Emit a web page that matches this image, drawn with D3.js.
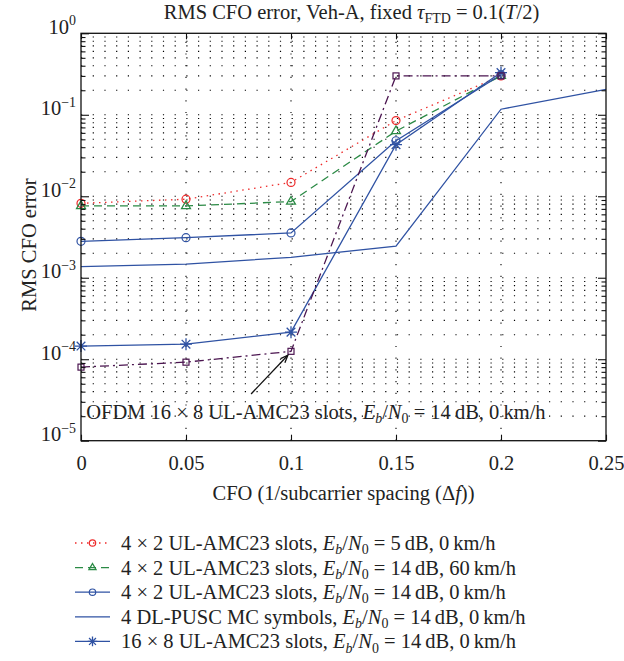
<!DOCTYPE html>
<html><head><meta charset="utf-8">
<script src="https://cdn.jsdelivr.net/npm/d3@7"></script>
<style>
body{margin:0;background:#fff}
svg{display:block}
text{font-family:"Liberation Serif","Times New Roman",serif;fill:#222}
</style>
</head><body><svg id="c" width="624" height="661"></svg>
<script>
// ---------- data ----------
const cfo = [0, 0.05, 0.1, 0.15, 0.2];
const cfoDL = [0, 0.05, 0.1, 0.15, 0.2, 0.25];
const ul4x2_5dB_0kmh = [8.2e-3, 9.2e-3, 1.48e-2, 8.5e-2, 0.30];
const ul4x2_14dB_60kmh = [7.6e-3, 7.6e-3, 8.6e-3, 6.3e-2, 0.30];
const ul4x2_14dB_0kmh = [2.8e-3, 3.1e-3, 3.55e-3, 4.8e-2, 0.31];
const dlPusc_14dB_0kmh = [1.37e-3, 1.47e-3, 1.78e-3, 2.45e-3, 0.117, 0.205];
const ul16x8_14dB_0kmh = [1.45e-4, 1.53e-4, 2.15e-4, 4.3e-2, 0.33];
const ofdm16x8_14dB_0kmh = [8.0e-5, 9.2e-5, 1.25e-4, 0.30, 0.30];

const xTicks = [0, 0.05, 0.1, 0.15, 0.2, 0.25];
const xTickLabels = ["0", "0.05", "0.1", "0.15", "0.2", "0.25"];
const yMajor = [1e-5, 1e-4, 1e-3, 1e-2, 1e-1, 1];
const yExpLabels = ["\u22125", "\u22124", "\u22123", "\u22122", "\u22121", "0"];

const legendLabels = [
  [["4 \u00d7 2 UL-AMC23 slots, ","n"],["E","i"],["b","isub"],["/","n"],["N","i"],["0","sub"],[" = 5\u2009dB, 0\u2009km/h","n"]],
  [["4 \u00d7 2 UL-AMC23 slots, ","n"],["E","i"],["b","isub"],["/","n"],["N","i"],["0","sub"],[" = 14\u2009dB, 60\u2009km/h","n"]],
  [["4 \u00d7 2 UL-AMC23 slots, ","n"],["E","i"],["b","isub"],["/","n"],["N","i"],["0","sub"],[" = 14\u2009dB, 0\u2009km/h","n"]],
  [["4 DL-PUSC MC symbols, ","n"],["E","i"],["b","isub"],["/","n"],["N","i"],["0","sub"],[" = 14\u2009dB, 0\u2009km/h","n"]],
  [["16 \u00d7 8 UL-AMC23 slots, ","n"],["E","i"],["b","isub"],["/","n"],["N","i"],["0","sub"],[" = 14\u2009dB, 0\u2009km/h","n"]]
];
const annotLabel = [["OFDM 16 \u00d7 8 UL-AMC23 slots, ","n"],["E","i"],["b","isub"],["/","n"],["N","i"],["0","sub"],[" = 14\u2009dB, 0\u2009km/h","n"]];
const titleLabel = [["RMS CFO error, Veh-A, fixed ","n"],["\u03c4","i"],["FTD","sub"],[" = 0.1(","n"],["T","i"],["/2)","n"]];
const xLabel = [["CFO (1/subcarrier spacing (\u0394","n"],["f","i"],["))","n"]];
const yLabel = "RMS CFO error";
// annotation anchor points in data units
const annotText = {x: 0.0025, y: 1.85e-5};
const arrowFrom = {x: 0.081, y: 3.75e-5};
const arrowTo = {x: 0.0985, y: 1.12e-4};

// ---------- series table ----------
const series = [
  {x: cfo, v: ul4x2_5dB_0kmh, color: "#ee2a2a", dash: "1.5,4.5", marker: "circle", leg: legendLabels[0]},
  {x: cfo, v: ul4x2_14dB_60kmh, color: "#2b8a45", dash: "8,5", marker: "triangle", leg: legendLabels[1]},
  {x: cfo, v: ul4x2_14dB_0kmh, color: "#2f52a3", dash: null, marker: "circle", leg: legendLabels[2]},
  {x: cfoDL, v: dlPusc_14dB_0kmh, color: "#2f52a3", dash: null, marker: null, leg: legendLabels[3]},
  {x: cfo, v: ul16x8_14dB_0kmh, color: "#2f52a3", dash: null, marker: "star", leg: legendLabels[4]},
  {x: cfo, v: ofdm16x8_14dB_0kmh, color: "#4b1550", dash: "9,4,2,4", marker: "square", leg: null}
];

// ---------- layout ----------
const svg = d3.select("#c");
const L = 81, R = 606, T = 33.3, B = 440.7;
const x = d3.scaleLinear().domain([0, 0.25]).range([L, R]);
const y = d3.scaleLog().domain([1e-5, 1]).range([B, T]);
const FS = 20.5;

function rich(t, segs, fs) {
  let shift = 0;
  segs.forEach(([s, st]) => {
    const target = st.includes("sub") ? 0.2 * fs : (st === "sup" ? -0.42 * fs : 0);
    const sp = t.append("tspan").text(s).attr("dy", target - shift);
    shift = target;
    if (st[0] === "i") sp.attr("font-style", "italic");
    if (st.includes("sub") || st === "sup") sp.attr("font-size", 0.68 * fs);
  });
  return t;
}

// minor y values
const yAll = [];
for (let e = -5; e < 0; e++) for (let k = 1; k <= 9; k++) yAll.push(k * Math.pow(10, e));
yAll.push(1);
const yMinor = yAll.filter(v => !yMajor.some(m => Math.abs(m - v) < v * 1e-9));

// ---------- grid ----------
const grid = svg.append("g").attr("stroke", "#000").attr("stroke-width", 1.1)
  .attr("stroke-dasharray", "1.2,10.5").attr("fill", "none");
grid.selectAll("line.h").data(yAll.filter(v => v > 1e-5 && v < 1)).join("line")
  .attr("x1", L).attr("x2", R).attr("y1", d => y(d)).attr("y2", d => y(d));
grid.selectAll("line.v").data(xTicks.slice(1, -1)).join("line")
  .attr("x1", d => x(d)).attr("x2", d => x(d)).attr("y1", B).attr("y2", T);

// ---------- markers ----------
function drawMarker(g, type, cx, cy, color, scale) {
  const s = scale || 1;
  if (type === "circle") {
    g.append("circle").attr("cx", cx).attr("cy", cy).attr("r", 4 * s)
      .attr("fill", "none").attr("stroke", color).attr("stroke-width", 1.2);
  } else if (type === "triangle") {
    g.append("path").attr("transform", `translate(${cx},${cy})`)
      .attr("d", d3.symbol().type(d3.symbolTriangle).size(34 * s * s)())
      .attr("fill", "none").attr("stroke", color).attr("stroke-width", 1.3);
  } else if (type === "square") {
    const h = 3 * s;
    g.append("rect").attr("x", cx - h).attr("y", cy - h).attr("width", 2 * h).attr("height", 2 * h)
      .attr("fill", "none").attr("stroke", color).attr("stroke-width", 1.2);
  } else if (type === "star") {
    const r = 6 * s, q = r * 0.72;
    g.append("path")
      .attr("d", `M${cx - r},${cy}L${cx + r},${cy}M${cx},${cy - r}L${cx},${cy + r}M${cx - q},${cy - q}L${cx + q},${cy + q}M${cx - q},${cy + q}L${cx + q},${cy - q}`)
      .attr("stroke", color).attr("stroke-width", 1.3).attr("fill", "none");
  }
}

// ---------- series ----------
const line = d3.line().x(d => x(d[0])).y(d => y(d[1]));
const sg = svg.append("g");
series.forEach(s => {
  const pts = s.x.map((xv, i) => [xv, s.v[i]]);
  sg.append("path").attr("d", line(pts)).attr("fill", "none")
    .attr("stroke", s.color).attr("stroke-width", 1.3)
    .attr("stroke-dasharray", s.dash);
});
series.forEach(s => {
  if (!s.marker) return;
  s.x.forEach((xv, i) => drawMarker(sg, s.marker, x(xv), y(s.v[i]), s.color, 1));
});

// ---------- frame & axes ----------
svg.append("rect").attr("x", L).attr("y", T).attr("width", R - L).attr("height", B - T)
  .attr("fill", "none").attr("stroke", "#111").attr("stroke-width", 1.3);

function styleAxis(g) {
  g.select(".domain").remove();
  g.selectAll(".tick line").attr("stroke", "#111").attr("stroke-width", 1.1);
}
const xb = svg.append("g").attr("transform", `translate(0,${B})`)
  .call(d3.axisBottom(x).tickValues(xTicks).tickSizeInner(-6).tickSizeOuter(0).tickPadding(15)
    .tickFormat((d, i) => xTickLabels[i]));
styleAxis(xb);
xb.selectAll("text").attr("font-size", FS).attr("fill", "#222")
  .attr("font-family", "Liberation Serif, serif");
svg.append("g").attr("transform", `translate(0,${T})`)
  .call(d3.axisTop(x).tickValues(xTicks).tickSizeInner(-6).tickSizeOuter(0).tickFormat(""))
  .call(styleAxis);

const yl = svg.append("g").attr("transform", `translate(${L},0)`)
  .call(d3.axisLeft(y).tickValues(yMajor).tickSizeInner(-8).tickSizeOuter(0).tickPadding(14)
    .tickFormat(() => ""));
styleAxis(yl);
yl.selectAll(".tick text").each(function(d, i) {
  const t = d3.select(this).attr("font-size", FS).attr("fill", "#222")
    .attr("font-family", "Liberation Serif, serif").attr("text-anchor", "end").attr("x", -5);
  t.text("");
  rich(t, [["10", "n"], [yExpLabels[i], "sup"]], FS);
});
svg.append("g").attr("transform", `translate(${L},0)`)
  .call(d3.axisLeft(y).tickValues(yMinor).tickSizeInner(-4.5).tickSizeOuter(0).tickFormat(""))
  .call(styleAxis);
svg.append("g").attr("transform", `translate(${R},0)`)
  .call(d3.axisRight(y).tickValues(yMajor).tickSizeInner(-8).tickSizeOuter(0).tickFormat(""))
  .call(styleAxis);
svg.append("g").attr("transform", `translate(${R},0)`)
  .call(d3.axisRight(y).tickValues(yMinor).tickSizeInner(-4.5).tickSizeOuter(0).tickFormat(""))
  .call(styleAxis);

// ---------- titles ----------
rich(svg.append("text").attr("x", (L + R) / 2 + 8).attr("y", 19).attr("text-anchor", "middle")
  .attr("font-size", FS), titleLabel, FS);
rich(svg.append("text").attr("x", (L + R) / 2).attr("y", 500).attr("text-anchor", "middle")
  .attr("font-size", FS), xLabel, FS);
svg.append("text").attr("transform", `translate(36,${(T + B) / 2 + 8}) rotate(-90)`)
  .attr("text-anchor", "middle").attr("font-size", FS).text(yLabel);

// ---------- annotation ----------
rich(svg.append("text").attr("x", x(annotText.x)).attr("y", y(annotText.y))
  .attr("font-size", FS), annotLabel, FS);
const ax1 = x(arrowFrom.x), ay1 = y(arrowFrom.y), ax2 = x(arrowTo.x), ay2 = y(arrowTo.y);
svg.append("line").attr("x1", ax1).attr("y1", ay1).attr("x2", ax2).attr("y2", ay2)
  .attr("stroke", "#111").attr("stroke-width", 1.3);
const ang = Math.atan2(ay2 - ay1, ax2 - ax1), hl = 8, hw = 0.38;
svg.append("path")
  .attr("d", `M${ax2 - hl * Math.cos(ang - hw)},${ay2 - hl * Math.sin(ang - hw)}L${ax2},${ay2}L${ax2 - hl * Math.cos(ang + hw)},${ay2 - hl * Math.sin(ang + hw)}`)
  .attr("fill", "none").attr("stroke", "#111").attr("stroke-width", 1.3);

// ---------- legend ----------
const legRows = series.filter(s => s.leg);
const lg = svg.append("g");
legRows.forEach((s, i) => {
  const cy = 543 + i * 24.6;
  lg.append("line").attr("x1", 75).attr("x2", 110).attr("y1", cy).attr("y2", cy)
    .attr("stroke", s.color).attr("stroke-width", 1.3).attr("stroke-dasharray", s.dash);
  if (s.marker) drawMarker(lg, s.marker, 92.5, cy, s.color, 0.8);
  rich(lg.append("text").attr("x", 121).attr("y", cy + 7).attr("font-size", FS), s.leg, FS);
});
</script>
</body></html>
